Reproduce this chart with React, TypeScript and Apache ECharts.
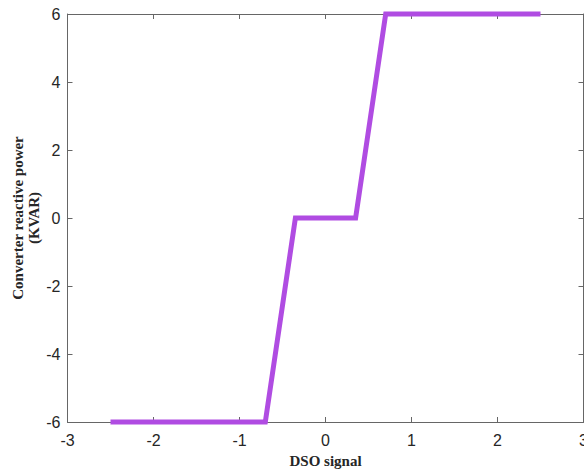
import React, { useEffect, useRef } from "react";
import * as echarts from "echarts";

const dsoSignal = [-2.5, -0.7, -0.35, 0.35, 0.7, 2.5];
const reactivePower = [-6, -6, 0, 0, 6, 6];
const xTicks = [-3, -2, -1, 0, 1, 2, 3];
const yTicks = [-6, -4, -2, 0, 2, 4, 6];
const xTitle = "DSO signal";
const yTitle = "Converter reactive power\n(KVAR)";

export default function App() {
  const ref = useRef<HTMLDivElement>(null);
  useEffect(() => {
    if (!ref.current) return;
    const chart = echarts.init(ref.current, null, { renderer: "svg" });
    const axisColor = "#666666";
    const labelStyle = {
      color: "#262626",
      fontFamily: "Liberation Sans, Arial, sans-serif",
      fontSize: 16,
    };
    const titleStyle = {
      color: "#262626",
      fontFamily: "Liberation Serif, Times New Roman, serif",
      fontWeight: "bold" as const,
      fontSize: 15,
    };
    chart.setOption({
      animation: false,
      backgroundColor: "#ffffff",
      grid: {
        left: 67.5,
        right: 0.5,
        top: 14,
        bottom: 50,
        containLabel: false,
        outerBoundsMode: "none",
      },
      graphic: [
        {
          type: "text",
          x: 26,
          y: 218,
          rotation: Math.PI / 2,
          style: {
            text: yTitle,
            fill: titleStyle.color,
            fontFamily: titleStyle.fontFamily,
            fontWeight: "bold",
            fontSize: 15,
            lineHeight: 16,
            align: "center",
            verticalAlign: "middle",
          },
        },
      ],
      xAxis: [
        {
          type: "value",
          min: xTicks[0],
          max: xTicks[xTicks.length - 1],
          interval: 1,
          name: xTitle,
          nameLocation: "middle",
          nameGap: 31,
          nameTextStyle: titleStyle,
          axisLine: { show: true, onZero: false, lineStyle: { color: axisColor, width: 1 } },
          axisTick: { show: true, inside: true, length: 5, lineStyle: { color: axisColor } },
          axisLabel: { ...labelStyle, margin: 10 },
          splitLine: { show: false },
        },
        {
          type: "value",
          position: "top",
          min: xTicks[0],
          max: xTicks[xTicks.length - 1],
          interval: 1,
          axisLine: { show: true, onZero: false, lineStyle: { color: axisColor, width: 1 } },
          axisTick: { show: true, inside: true, length: 5, lineStyle: { color: axisColor } },
          axisLabel: { show: false },
          splitLine: { show: false },
        },
      ],
      yAxis: [
        {
          type: "value",
          min: yTicks[0],
          max: yTicks[yTicks.length - 1],
          interval: 2,
          axisLine: { show: true, onZero: false, lineStyle: { color: axisColor, width: 1 } },
          axisTick: { show: true, inside: true, length: 5, lineStyle: { color: axisColor } },
          axisLabel: { ...labelStyle, margin: 7 },
          splitLine: { show: false },
        },
        {
          type: "value",
          position: "right",
          min: yTicks[0],
          max: yTicks[yTicks.length - 1],
          interval: 2,
          axisLine: { show: true, onZero: false, lineStyle: { color: axisColor, width: 1 } },
          axisTick: { show: true, inside: true, length: 5, lineStyle: { color: axisColor } },
          axisLabel: { show: false },
          splitLine: { show: false },
        },
      ],
      series: [
        {
          type: "line",
          data: dsoSignal.map((x, i) => [x, reactivePower[i]]),
          showSymbol: false,
          lineStyle: { color: "#b04ce2", width: 5, cap: "butt", join: "miter" },
          clip: false,
        },
      ],
    });
    return () => chart.dispose();
  }, []);
  return (
    <div
      ref={ref}
      style={{ position: "absolute", left: 0, top: 0, width: 584, height: 472 }}
    />
  );
}
